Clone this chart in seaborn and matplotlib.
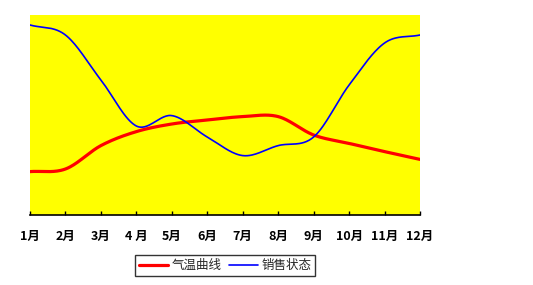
import numpy as np
import pandas as pd
import seaborn as sns
import matplotlib
matplotlib.use("Agg")
import matplotlib.pyplot as plt

months = ["1月", "2月", "3月", "4 月", "5月", "6月", "7月", "8月", "9月", "10月", "11月", "12月"]
temperature = [21.7, 23.0, 34.7, 41.7, 45.5, 47.5, 49.2, 49.2, 40.0, 35.8, 31.7, 27.8]
sales = [95.0, 90.0, 67.5, 44.5, 49.7, 39.0, 29.7, 34.7, 39.0, 65.0, 86.0, 90.0]
series_names = ["气温曲线", "销售状态"]
colors = ["#FF0000", "#0000FF"]

sns.set_theme(style="white")
plt.rcParams['font.family'] = ['Noto Sans CJK SC', 'DejaVu Sans']


def smooth(y, n=30):
    # Catmull-Rom style smoothing of the line between given points
    y = np.asarray(y, float)
    x = np.arange(1, len(y) + 1, dtype=float)
    p = np.concatenate([[2 * y[0] - y[1]], y, [2 * y[-1] - y[-2]]])
    xs, ys = [], []
    for i in range(len(y) - 1):
        p0, p1, p2, p3 = p[i], p[i + 1], p[i + 2], p[i + 3]
        t = np.linspace(0, 1, n, endpoint=False)
        m1 = (p2 - p0) / 2
        m2 = (p3 - p1) / 2
        h00 = 2 * t**3 - 3 * t**2 + 1
        h10 = t**3 - 2 * t**2 + t
        h01 = -2 * t**3 + 3 * t**2
        h11 = t**3 - t**2
        ys.append(h00 * p1 + h10 * m1 + h01 * p2 + h11 * m2)
        xs.append(x[i] + t)
    xs.append([x[-1]])
    ys.append([y[-1]])
    return np.concatenate(xs), np.concatenate(ys)


fig = plt.figure(figsize=(5.33, 2.85), dpi=100)
ax = fig.add_axes([30 / 533, 1 - 215 / 285, 390 / 533, 200 / 285])
ax.set_facecolor("#FFFF00")

frames = []
for name, vals in zip(series_names, [temperature, sales]):
    xs, ys = smooth(vals)
    frames.append(pd.DataFrame({"x": xs, "y": ys, "s": name}))
df = pd.concat(frames)

sns.lineplot(data=df[df.s == series_names[0]], x="x", y="y", color=colors[0], lw=2.3, ax=ax,
             label=series_names[0], sort=False)
sns.lineplot(data=df[df.s == series_names[1]], x="x", y="y", color=colors[1], lw=1.2, ax=ax,
             label=series_names[1], sort=False)

ax.set_xlim(1, 12)
ax.set_ylim(0, 100)
ax.set_xlabel("")
ax.set_ylabel("")
ax.set_yticks([])
ax.set_xticks(range(1, 13))
ax.set_xticklabels(months, fontsize=9, fontweight="bold", color="black")
ax.tick_params(axis="x", direction="in", length=3, width=1, color="black", pad=11, bottom=True)
for s in ["left", "right", "top"]:
    ax.spines[s].set_visible(False)
ax.spines["bottom"].set_color("black")
ax.spines["bottom"].set_linewidth(1.2)

leg = ax.legend(loc="center", bbox_to_anchor=(225 / 533, 1 - 265.5 / 285), bbox_transform=fig.transFigure,
                ncol=2, frameon=True, fancybox=False, fontsize=9, handlelength=2.3, handletextpad=0.3,
                columnspacing=0.6, borderpad=0.3)
leg.get_frame().set_edgecolor("black")
leg.get_frame().set_linewidth(1.0)

fig.savefig("out.png", dpi=100, facecolor="white")
